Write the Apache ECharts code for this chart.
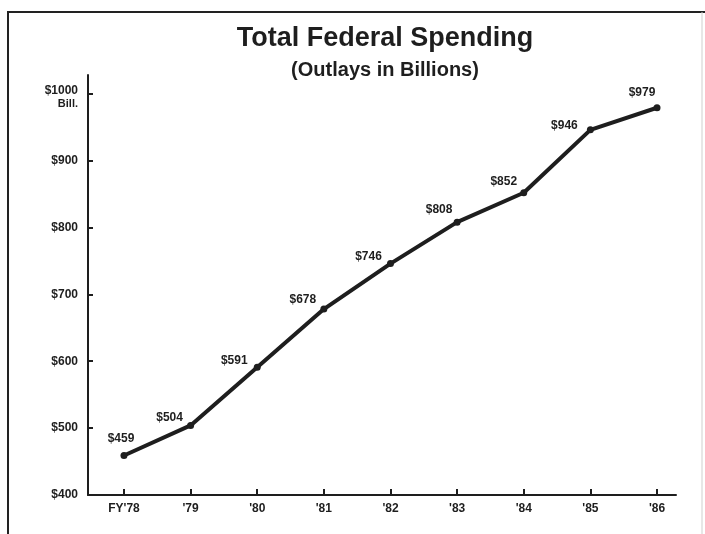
<!DOCTYPE html>
<html>
<head>
<meta charset="utf-8">
<script src="https://cdn.jsdelivr.net/npm/echarts@6/dist/echarts.min.js"></script>
<style>
html,body{margin:0;padding:0;background:#fff;}
#chart{width:705px;height:534px;}
</style>
</head>
<body>
<div id="chart"></div>
<script>
// ---- data ----
var categories = ["FY'78", "'79", "'80", "'81", "'82", "'83", "'84", "'85", "'86"];
var outlays = [459, 504, 591, 678, 746, 808, 852, 946, 979];
var yTicks = [400, 500, 600, 700, 800, 900, 1000];

// label placement (style, kept apart from data)
var labelOffsets = [[-3,-17],[-21,-8],[-23,-7],[-21,-9],[-22,-7],[-18,-12],[-20,-11],[-26,-4],[-15,-15]];

var ink = '#1e1e1e';
var font = '"Liberation Sans", Arial, Helvetica, sans-serif';
var idx = categories.map(function (c, i) { return i; });

var seriesData = outlays.map(function (v, i) {
  return {
    value: [i, v],
    label: { offset: labelOffsets[i] }
  };
});

var chart = echarts.init(document.getElementById('chart'), null, { renderer: 'canvas' });
chart.setOption({
  backgroundColor: '#ffffff',
  animation: false,
  title: {
    text: 'Total Federal Spending',
    subtext: '(Outlays in Billions)',
    left: 380,
    textAlign: 'center',
    top: 20,
    itemGap: 8,
    textStyle: { fontFamily: font, fontWeight: 'bold', fontSize: 27, color: ink },
    subtextStyle: { fontFamily: font, fontWeight: 'bold', fontSize: 20, color: ink }
  },
  graphic: [
    {
      type: 'polyline',
      shape: { points: [[8, 560], [8, 12], [705, 12]] },
      style: { stroke: '#222', lineWidth: 2, fill: null },
      silent: true
    },
    {
      type: 'line',
      shape: { x1: 702, y1: 12, x2: 702, y2: 534 },
      style: { stroke: '#cfcfcf', lineWidth: 1 },
      silent: true
    }
  ],
  grid: { left: 88, right: 29, top: 75, bottom: 39, containLabel: false },
  xAxis: {
    type: 'value',
    min: -0.54,
    max: 8.285,
    splitLine: { show: false },
    axisLine: { show: true, onZero: false, lineStyle: { color: ink, width: 2 } },
    axisTick: { show: true, inside: true, length: 6, customValues: idx, lineStyle: { color: ink, width: 2 } },
    axisLabel: {
      customValues: idx,
      margin: 8,
      formatter: function (v) { return categories[Math.round(v)]; },
      fontFamily: font, fontWeight: 'bold', fontSize: 12, color: ink
    }
  },
  yAxis: {
    type: 'value',
    min: 400,
    max: 1028,
    splitLine: { show: false },
    axisLine: { show: true, onZero: false, lineStyle: { color: ink, width: 2 } },
    axisTick: { show: true, inside: true, length: 5, customValues: yTicks, lineStyle: { color: ink, width: 2 } },
    axisLabel: {
      customValues: yTicks,
      margin: 10,
      formatter: function (v) {
        if (v === 1000) return '{a|$1000}\n{b|Bill.}';
        return '$' + v;
      },
      rich: {
        a: { fontFamily: font, fontWeight: 'bold', fontSize: 12, color: ink, padding: [6, 0, 0, 0], align: 'right' },
        b: { fontFamily: font, fontWeight: 'bold', fontSize: 11, color: ink, align: 'right', padding: [2, 0, 0, 0] }
      },
      fontFamily: font, fontWeight: 'bold', fontSize: 12, color: ink
    }
  },
  series: [{
    type: 'line',
    data: seriesData,
    symbol: 'circle',
    symbolSize: 7,
    lineStyle: { color: ink, width: 4 },
    itemStyle: { color: ink },
    label: {
      show: true,
      position: 'inside',
      formatter: function (p) { return '$' + p.value[1]; },
      fontFamily: font, fontWeight: 'bold', fontSize: 12, color: ink
    }
  }]
});
</script>
</body>
</html>
